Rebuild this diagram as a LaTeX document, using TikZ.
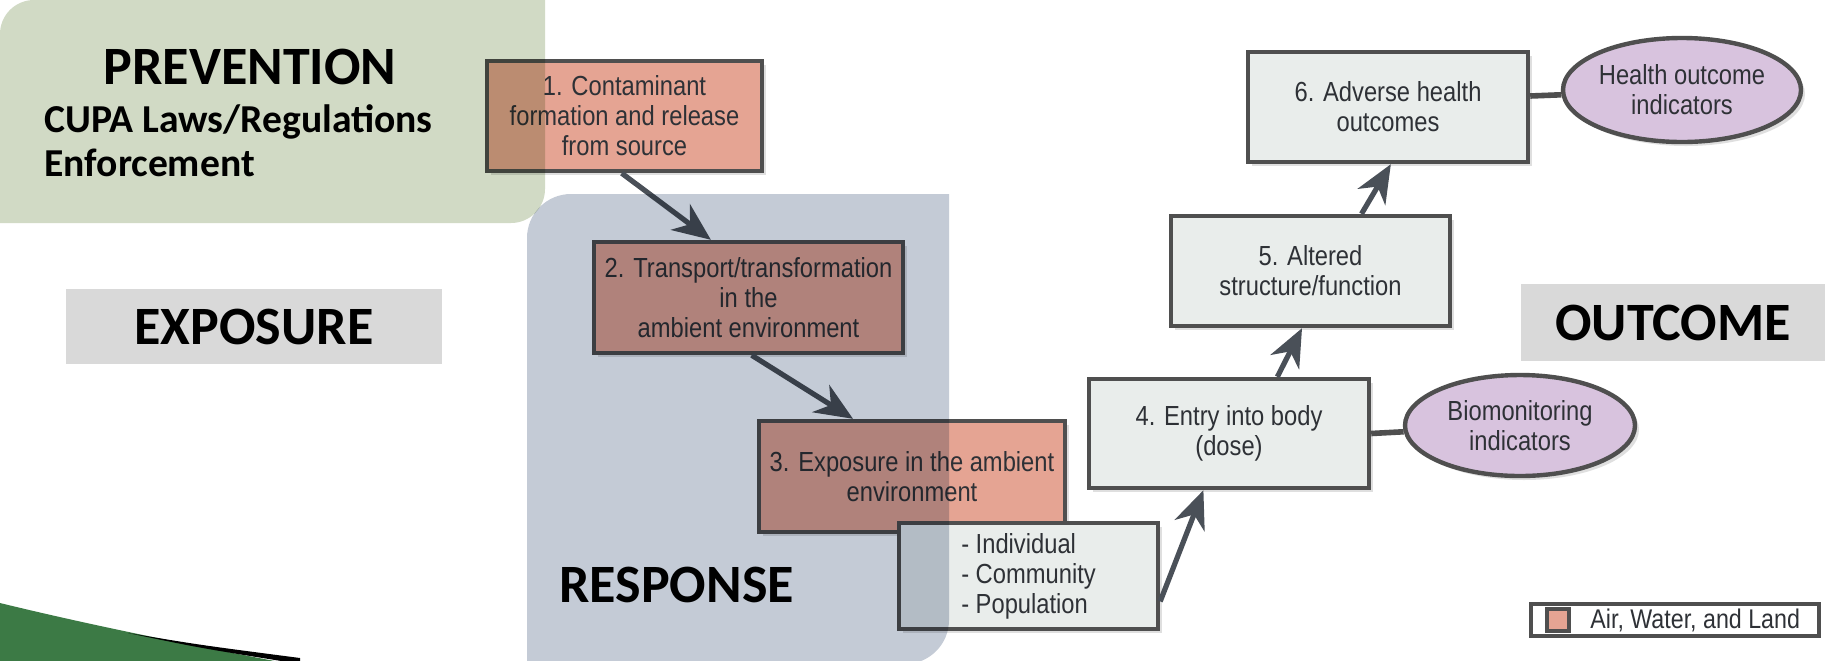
\documentclass[tikz,border=0pt]{standalone}
\usepackage{fontspec}
\setmainfont{Carlito}
\newfontfamily\boxfont[FakeStretch=0.86]{Liberation Sans}
\usetikzlibrary{shapes.geometric,arrows.meta,calc,shadows}
\definecolor{salmon}{HTML}{E5A493}
\definecolor{lightbox}{HTML}{E9EDEB}
\definecolor{bordergray}{HTML}{4F4F4F}
\definecolor{lilac}{HTML}{D8C3DE}
\definecolor{headgray}{HTML}{D9D9D9}
\definecolor{greenreg}{HTML}{D1DAC5}
\definecolor{bluereg}{HTML}{C4CBD6}
\definecolor{arrowgray}{HTML}{4A5058}
\definecolor{swoosh}{HTML}{3C7A45}
\definecolor{textdark}{HTML}{2E3136}
\tikzset{
  flowbox/.style={draw=bordergray, line width=2.2pt, align=center, inner sep=2pt,
    text=textdark, font=\boxfont\fontsize{13.8}{15}\selectfont,
    drop shadow={shadow xshift=2pt, shadow yshift=-2pt, opacity=0.25}},
  salbox/.style={flowbox, fill=salmon},
  graybox/.style={flowbox, fill=lightbox},
  indic/.style={ellipse, draw=bordergray, line width=2.2pt, fill=lilac, align=center,
    inner sep=0pt, text=textdark, font=\boxfont\fontsize{13.8}{15}\selectfont,
    drop shadow={shadow xshift=2pt, shadow yshift=-2pt, opacity=0.25}},
  arr/.style={draw=arrowgray, line width=2.6pt, -{Stealth[length=19pt,width=16pt,inset=6pt]}},
  link/.style={draw=bordergray, line width=2.8pt},
  headbox/.style={fill=headgray, font=\bfseries\fontsize{27}{32}\selectfont, inner sep=0pt},
  headtext/.style={font=\bfseries\fontsize{27}{32}\selectfont, inner sep=0pt},
  subtext/.style={font=\bfseries\fontsize{19.8}{22}\selectfont, inner sep=0pt, anchor=base west},
}
\begin{document}
\begin{tikzpicture}[x=0.5pt,y=-0.5pt]
\useasboundingbox (0,0) rectangle (1825,660);
\fill[white] (0,0) rectangle (1825,660);

% heading boxes
\node[headbox, minimum width=188pt, minimum height=37.5pt] (expo) at (254,326.5) {EXPOSURE};
\node[headbox, minimum width=152pt, minimum height=38.5pt] (outc) at (1673,322.5) {OUTCOME};

% swoosh
\fill[swoosh] (0,603) .. controls (90,625) and (190,645) .. (280,662) -- (0,662) -- cycle;
\fill[black] (128,633) .. controls (200,645) .. (300,658) -- (300,664) .. controls (200,648) .. (128,633) -- cycle;

% flow boxes
\node[salbox, minimum width=137.5pt, minimum height=55pt] (b1) at (624.5,116)
  {1. Contaminant\\formation and release\\from source};
\node[salbox, minimum width=154.5pt, minimum height=55.5pt] (b2) at (748.5,297.5)
  {2. Transport/transformation\\in the\\ambient environment};
\node[salbox, minimum width=153pt, minimum height=55.5pt] (b3) at (912,476.5)
  {3. Exposure in the ambient\\environment};
\node[graybox, align=left, minimum width=129.5pt, minimum height=53pt] (ind) at (1028.5,576)
  {- Individual\\- Community\\- Population};
\node[graybox, minimum width=140pt, minimum height=54.5pt] (b4) at (1229,433.5)
  {4. Entry into body\\(dose)};
\node[graybox, minimum width=139.5pt, minimum height=55pt] (b5) at (1310.5,271)
  {5. Altered\\structure/function};
\node[graybox, minimum width=140pt, minimum height=55pt] (b6) at (1388,107)
  {6. Adverse health\\outcomes};
\node[indic, minimum width=119pt, minimum height=52pt] (e1) at (1682,90)
  {Health outcome\\indicators};
\node[indic, minimum width=115pt, minimum height=50.5pt] (e2) at (1520,425.5)
  {Biomonitoring\\indicators};

% connectors
\draw[link] ([yshift=5.5pt]b6.east) -- (e1);
\draw[link] (b4.east) -- (e2);
\draw[arr] ($(b1.south west)!0.49!(b1.south east)$) -- ($(b2.north west)!0.38!(b2.north east)$);
\draw[arr] ($(b2.south west)!0.51!(b2.south east)$) -- ($(b3.north west)!0.31!(b3.north east)$);
\draw[arr] ($(ind.north east)!0.73!(ind.south east)$) -- ($(b4.south west)!0.41!(b4.south east)$);
\draw[arr] ($(b4.north west)!0.67!(b4.north east)$) -- ($(b5.south west)!0.47!(b5.south east)$);
\draw[arr] ($(b5.north west)!0.68!(b5.north east)$) -- ($(b6.south west)!0.51!(b6.south east)$);

% legend
\node[draw=bordergray, line width=2.2pt, fill=white, minimum width=144pt, minimum height=16pt, inner sep=0pt] (leg) at (1675,620) {};
\node[draw=bordergray, line width=1.8pt, fill=salmon, minimum width=11pt, minimum height=11pt, inner sep=0pt] (sw) at (1558,620) {};
\node[anchor=west, inner sep=0pt, text=textdark, font=\boxfont\fontsize{13.5}{15}\selectfont] (legt) at (1590,620) {Air, Water, and Land};

% translucent regions
\begin{scope}[blend mode=multiply]
\fill[greenreg] [rounded corners=17pt] (0,0) rectangle (545,223)
  [sharp corners] (420,0) rectangle (545,100) (0,120) rectangle (100,223);
\fill[bluereg] [rounded corners=22pt] (527,194) rectangle (949,664)
  [sharp corners] (850,194) rectangle (949,300) (527,560) rectangle (620,664);
\end{scope}

% region labels
\node[headtext, anchor=base] (prev) at (250,84) {PREVENTION};
\node[subtext] (cupa) at (44,132) {CUPA Laws/Regulations};
\node[subtext] (enf) at (44,176) {Enforcement};
\node[headtext, anchor=base west] (resp) at (559,602) {RESPONSE};
\end{tikzpicture}
\end{document}
